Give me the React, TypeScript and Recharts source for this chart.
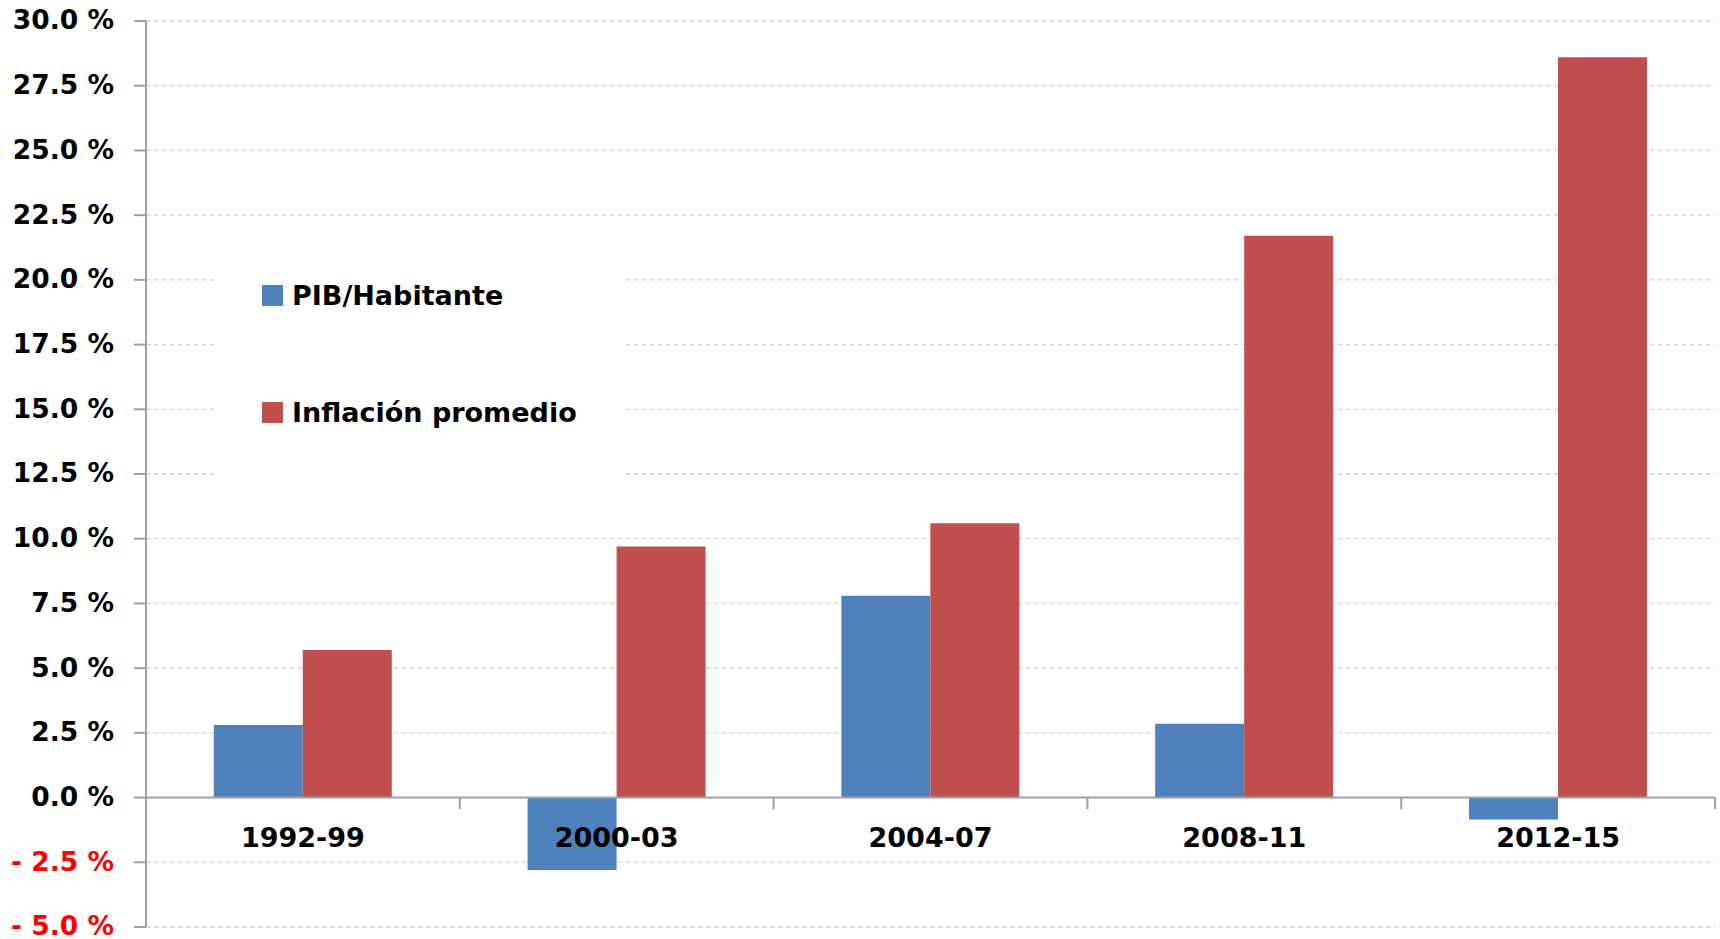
import React from 'react';
import {
  BarChart,
  Bar,
  XAxis,
  YAxis,
  CartesianGrid,
  ReferenceLine,
  ReferenceDot,
  Legend,
} from 'recharts';

const periods = ['1992-99', '2000-03', '2004-07', '2008-11', '2012-15'];
const pibHabitante = [2.8, -2.8, 7.8, 2.85, -0.85];
const inflacionPromedio = [5.7, 9.7, 10.6, 21.7, 28.6];
const yTicks = [-5, -2.5, 0, 2.5, 5, 7.5, 10, 12.5, 15, 17.5, 20, 22.5, 25, 27.5, 30];
const seriesNames = ['PIB/Habitante', 'Inflación promedio'];
const seriesColors = ['#4F81BD', '#C0504D'];
const tickLength = 0.45;

const data = periods.map((p, i) => ({
  period: p,
  pib: pibHabitante[i],
  inflacion: inflacionPromedio[i],
}));

const FONT = '"DejaVu Sans", sans-serif';
const AXIS_COLOR = '#A0A0A0';

const fmt = (v: number) =>
  v < 0 ? `- ${Math.abs(v).toFixed(1)} %` : `${v.toFixed(1)} %`;

const YTick = (props: any) => {
  const { x, y, payload } = props;
  const v = Number(payload.value);
  return (
    <text
      x={x}
      y={y}
      dy="0.32em"
      textAnchor="end"
      fill={v < 0 ? '#FF0000' : '#000000'}
      fontFamily={FONT}
      fontWeight="bold"
      fontSize={26.5}
    >
      {fmt(v)}
    </text>
  );
};

const LegendBox = (props: any) => {
  const payload = [...(props.payload || [])].sort(
    (a: any, b: any) => seriesNames.indexOf(a.value) - seriesNames.indexOf(b.value)
  );
  return (
    <div
      style={{
        width: '100%',
        height: '100%',
        background: '#ffffff',
        boxSizing: 'border-box',
        paddingLeft: 48,
        paddingTop: 37,
        fontFamily: FONT,
      }}
    >
      {payload.map((entry: any, i: number) => (
        <div
          key={entry.value}
          style={{
            display: 'flex',
            alignItems: 'center',
            height: 21,
            marginBottom: i === 0 ? 96 : 0,
          }}
        >
          <div style={{ width: 21, height: 21, background: entry.color, marginRight: 9 }} />
          <span
            style={{
              fontSize: 27,
              lineHeight: '21px',
              fontWeight: 'bold',
              color: '#000',
              whiteSpace: 'nowrap',
            }}
          >
            {entry.value}
          </span>
        </div>
      ))}
    </div>
  );
};

export default function App() {
  const lastPeriod = periods[periods.length - 1];
  return (
    <div style={{ position: 'absolute', left: 0, top: 0, width: 1720, height: 939, background: '#fff' }}>
      <BarChart
        width={1720}
        height={939}
        data={data}
        margin={{ top: 21, right: 5, bottom: 12, left: 0 }}
        barCategoryGap="21.6%"
        barGap={0}
      >
        <CartesianGrid vertical={false} stroke="#d4d4d4" strokeDasharray="5 3" strokeWidth={1.3} />
        <XAxis dataKey="period" hide />
        <YAxis
          width={146}
          domain={[-5, 30]}
          ticks={yTicks}
          interval={0}
          allowDataOverflow
          axisLine={{ stroke: AXIS_COLOR, strokeWidth: 2 }}
          tickLine={{ stroke: AXIS_COLOR, strokeWidth: 2 }}
          tickSize={12}
          tickMargin={20}
          tick={<YTick />}
        />
        <Legend
          layout="vertical"
          align="center"
          verticalAlign="middle"
          content={<LegendBox />}
          wrapperStyle={{ left: 214, top: 248, width: 411, height: 258 }}
        />
        <Bar dataKey="pib" name={seriesNames[0]} fill={seriesColors[0]} isAnimationActive={false} />
        <Bar dataKey="inflacion" name={seriesNames[1]} fill={seriesColors[1]} isAnimationActive={false} />
        <ReferenceLine y={0} stroke={AXIS_COLOR} strokeWidth={2} />
        {periods.slice(1).map((p) => (
          <ReferenceLine
            key={`t-${p}`}
            segment={[
              { x: p, y: 0 },
              { x: p, y: -tickLength },
            ]}
            position="start"
            stroke={AXIS_COLOR}
            strokeWidth={2}
          />
        ))}
        <ReferenceLine
          key="t-end"
          segment={[
            { x: lastPeriod, y: 0 },
            { x: lastPeriod, y: -tickLength },
          ]}
          position="end"
          stroke={AXIS_COLOR}
          strokeWidth={2}
        />
        {periods.map((p) => (
          <ReferenceDot
            key={`l-${p}`}
            x={p}
            y={0}
            r={0}
            fill="none"
            stroke="none"
            label={{
              value: p,
              position: 'bottom',
              offset: 30,
              fill: '#000',
              fontSize: 27,
              fontWeight: 'bold',
              fontFamily: FONT,
            }}
          />
        ))}
      </BarChart>
    </div>
  );
}
